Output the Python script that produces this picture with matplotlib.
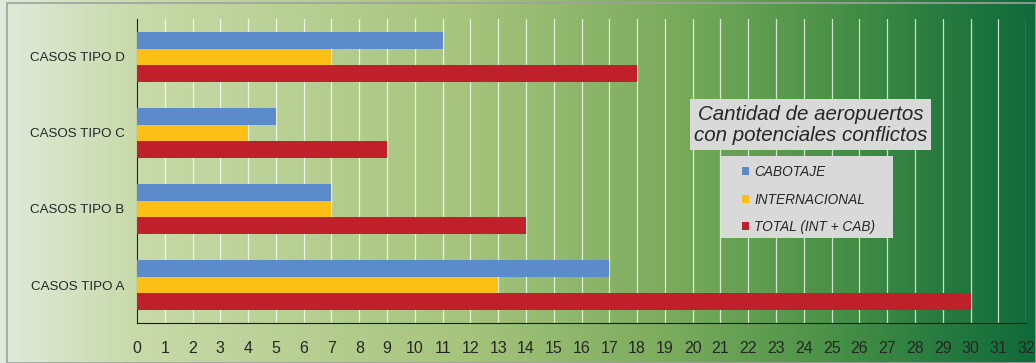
import numpy as np
import matplotlib
matplotlib.use("Agg")
from matplotlib import pyplot as plt
from matplotlib.colors import LinearSegmentedColormap
from matplotlib.patches import Rectangle

plt.rcParams['font.family'] = ['Liberation Sans', 'DejaVu Sans']

# Data
categories = ['CASOS TIPO A', 'CASOS TIPO B', 'CASOS TIPO C', 'CASOS TIPO D']
cabotaje = [17, 7, 5, 11]
internacional = [13, 7, 4, 7]
total = [30, 14, 9, 18]
series_names = ['CABOTAJE', 'INTERNACIONAL', 'TOTAL (INT + CAB)']
x_ticks = list(range(0, 33))

colors = ['#5b8bcb', '#fbbf16', '#c0202a']

W, H = 1036, 363
fig = plt.figure(figsize=(W / 100, H / 100), dpi=100)

# Background gradient across the whole figure
bg = fig.add_axes([0, 0, 1, 1], zorder=-10)
cmap = LinearSegmentedColormap.from_list('bg', [
    (0.0, '#e0eadb'), (0.13, '#c8daa9'), (0.45, '#a6c47c'),
    (0.65, '#7aab5c'), (0.8, '#4b9247'), (0.9, '#2a7d40'), (1.0, '#0f6a3a')])
grad = np.linspace(0, 1, 512).reshape(1, -1)
bg.imshow(grad, aspect='auto', cmap=cmap, extent=[0, 1, 0, 1])
bg.add_patch(Rectangle((0.007, 0.0), 0.993, 0.993, fill=False,
                       edgecolor='#a0a0a0', lw=1.2, transform=bg.transAxes))
bg.set_axis_off()

ax = fig.add_axes([0.1322, 0.110, 0.8583, 0.838])
ax.patch.set_alpha(0)

y = np.arange(len(categories))
h = 0.22
ax.barh(y + h, cabotaje, height=h, color=colors[0], label=series_names[0], zorder=3)
ax.barh(y, internacional, height=h, color=colors[1], label=series_names[1], zorder=3)
ax.barh(y - h, total, height=h, color=colors[2], label=series_names[2], zorder=3)

ax.set_xlim(0, 32)
ax.set_ylim(-0.5, 3.5)
ax.set_xticks(x_ticks)
ax.set_yticks(y)
ax.set_yticklabels(categories, fontsize=9.6, color='#262626')
ax.tick_params(axis='x', length=0, labelsize=11.5, labelcolor='#262626', pad=13)
ax.tick_params(axis='y', length=0, pad=9)
ax.xaxis.grid(True, color='white', lw=0.9, alpha=0.75, zorder=0)
ax.set_axisbelow(True)
for s in ['top', 'right']:
    ax.spines[s].set_visible(False)
ax.spines['left'].set_color('#1a1a1a')
ax.spines['bottom'].set_color('#1a1a1a')

# Title and legend boxes, placed in pixel coords
overlay = fig.add_axes([0, 0, 1, 1], zorder=10)
overlay.set_axis_off()
overlay.set_xlim(0, W)
overlay.set_ylim(H, 0)
overlay.add_patch(Rectangle((690, 99), 241, 51, facecolor='#d9d9d9', edgecolor='none'))
overlay.add_patch(Rectangle((721, 156), 172, 82, facecolor='#d9d9d9', edgecolor='none'))
overlay.text(810.5, 125, 'Cantidad de aeropuertos\ncon potenciales conflictos',
             ha='center', va='center', fontsize=14.8, style='italic', color='#262626',
             linespacing=1.12)

leg = overlay.legend(*ax.get_legend_handles_labels(), loc='upper left',
                     bbox_to_anchor=(731 / W, 1 - 154 / H), bbox_transform=fig.transFigure,
                     frameon=False, fontsize=9.8, handlelength=0.55, handleheight=0.55,
                     labelspacing=1.0, borderpad=0.3, handletextpad=0.35)
for t in leg.get_texts():
    t.set_style('italic')
    t.set_color('#262626')

fig.savefig('out.png', dpi=100)
